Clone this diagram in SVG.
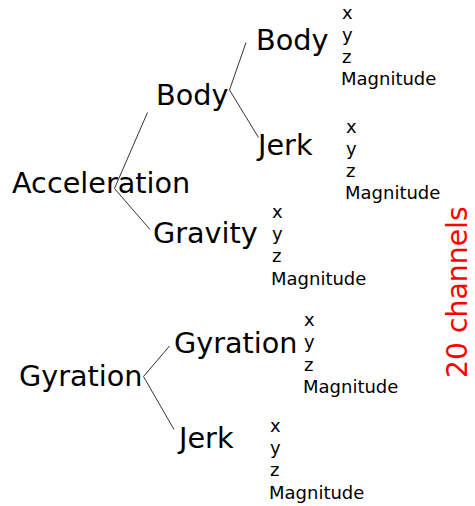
<svg xmlns="http://www.w3.org/2000/svg" width="475" height="506" viewBox="0 0 475 506">
<style>
text{font-family:"DejaVu Sans",sans-serif;fill:#000}
.big{font-size:28.7px}
.small{font-size:18px}
.red{fill:#ff0000;font-size:28.3px}
.conn{fill:none;stroke:#333;stroke-width:1}
</style>
<rect width="475" height="506" fill="#fff"/>
<g id="connectors">
<polyline class="conn" points="147.5,112.5 114.5,188.5 150,229.5"/>
<polyline class="conn" points="246,42.5 229.5,90 258.5,137.5"/>
<polyline class="conn" points="169.5,346 143.5,376.5 174,429.5"/>
</g>
<g id="acceleration"><text class="big" x="12" y="193">Acceleration</text></g>
<g id="acc-body"><text class="big" x="156" y="105">Body</text></g>
<g id="acc-gravity"><text class="big" x="153" y="243">Gravity</text></g>
<g id="body-body"><text class="big" x="256" y="50">Body</text></g>
<g id="body-jerk"><text class="big" x="258" y="155">Jerk</text></g>
<g id="gyration"><text class="big" x="19" y="386">Gyration</text></g>
<g id="gyr-gyration"><text class="big" x="174" y="353">Gyration</text></g>
<g id="gyr-jerk"><text class="big" x="179" y="448">Jerk</text></g>
<g id="body-body-axes"><text class="small" x="342" y="18.5">x<tspan x="342" y="40.5">y</tspan><tspan x="342" y="62.5">z</tspan><tspan x="341" y="85">Magnitude</tspan></text></g>
<g id="body-jerk-axes"><text class="small" x="346" y="132.5">x<tspan x="346" y="154.5">y</tspan><tspan x="346" y="176.5">z</tspan><tspan x="345" y="199">Magnitude</tspan></text></g>
<g id="gravity-axes"><text class="small" x="272" y="218">x<tspan x="272" y="240">y</tspan><tspan x="272" y="262">z</tspan><tspan x="271" y="284.5">Magnitude</tspan></text></g>
<g id="gyration-axes"><text class="small" x="304" y="326">x<tspan x="304" y="348">y</tspan><tspan x="304" y="370.5">z</tspan><tspan x="303" y="393">Magnitude</tspan></text></g>
<g id="gyr-jerk-axes"><text class="small" x="270" y="431.5">x<tspan x="270" y="453.5">y</tspan><tspan x="270" y="476">z</tspan><tspan x="269" y="498.5">Magnitude</tspan></text></g>
<g id="channels"><text class="red" transform="translate(467,378) rotate(-90)">20 channels</text></g>
</svg>
